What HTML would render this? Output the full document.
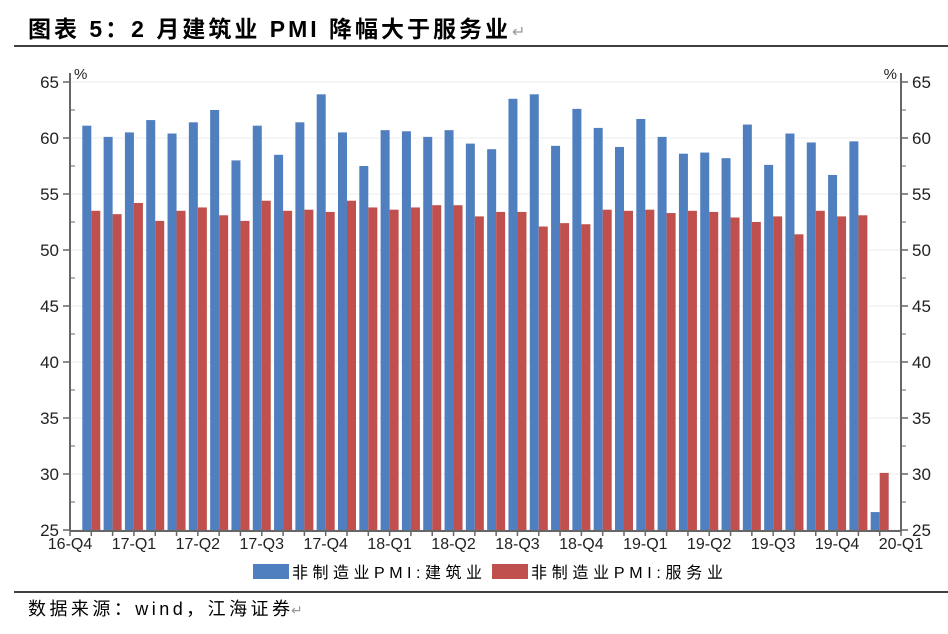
<!DOCTYPE html>
<html><head><meta charset="utf-8"><style>
body{margin:0;background:#fff;width:948px;height:629px;overflow:hidden;font-family:"Liberation Sans","Noto Sans CJK SC",sans-serif;}
</style></head><body>
<svg width="948" height="629" xmlns="http://www.w3.org/2000/svg">
<text x="28" y="37" font-size="23" font-weight="bold" textLength="480" lengthAdjust="spacing" font-family="'Liberation Sans','Noto Sans CJK SC',sans-serif">图表 5：2 月建筑业 PMI 降幅大于服务业</text>
<text x="512" y="37" font-size="16" fill="#999">↵</text>
<line x1="14" y1="46" x2="948" y2="46" stroke="#000" stroke-width="1.5"/>
<g id="grid"></g><g id="bars"></g><g id="axes"></g>
<g font-size="16" font-family="'Liberation Sans','Noto Sans CJK SC',sans-serif">
<rect x="253" y="564" width="36" height="15" fill="#4f7fbe"/>
<text x="292" y="578" textLength="190" lengthAdjust="spacing">非制造业PMI:建筑业</text>
<rect x="492" y="564" width="36" height="15" fill="#c0504d"/>
<text x="531" y="578" textLength="192" lengthAdjust="spacing">非制造业PMI:服务业</text>
</g>
<line x1="14" y1="592" x2="948" y2="592" stroke="#000" stroke-width="1.5"/>
<text x="28" y="615" font-size="18" textLength="262" lengthAdjust="spacing">数据来源：wind，江海证券</text>
<text x="291" y="615" font-size="14" fill="#999">↵</text>
</svg>
<script>
const construction=[61.1,60.1,60.5,61.6,60.4,61.4,62.5,58.0,61.1,58.5,61.4,63.9,60.5,57.5,60.7,60.6,60.1,60.7,59.5,59.0,63.5,63.9,59.3,62.6,60.9,59.2,61.7,60.1,58.6,58.7,58.2,61.2,57.6,60.4,59.6,56.7,59.7,26.6];
const services=[53.5,53.2,54.2,52.6,53.5,53.8,53.1,52.6,54.4,53.5,53.6,53.4,54.4,53.8,53.6,53.8,54.0,54.0,53.0,53.4,53.4,52.1,52.4,52.3,53.6,53.5,53.6,53.3,53.5,53.4,52.9,52.5,53.0,51.4,53.5,53.0,53.1,30.1];
const quarterLabels=["16-Q4","17-Q1","17-Q2","17-Q3","17-Q4","18-Q1","18-Q2","18-Q3","18-Q4","19-Q1","19-Q2","19-Q3","19-Q4","20-Q1"];
const yTicks=[25,30,35,40,45,50,55,60,65];
const NS="http://www.w3.org/2000/svg";
const L=70,R=901,T=73,B=530,yMin=25,yMax=65,slots=39;
const x=i=>L+(R-L)*i/slots;
const y=v=>B-(v-yMin)/(yMax-yMin)*(B-82);
function mk(t,a,p){const e=document.createElementNS(NS,t);for(const k in a)e.setAttribute(k,a[k]);p.appendChild(e);return e;}
const grid=document.getElementById('grid'),bars=document.getElementById('bars'),axes=document.getElementById('axes');
yTicks.forEach(v=>{
 const g=mk('line',{x1:L,x2:R,y1:y(v),y2:y(v),stroke:'#eee','stroke-width':1},grid);
 
 
 [[L,-7,'end',L-11],[R,7,'start',R+11]].forEach(([ax,d,an,tx])=>{
  mk('line',{x1:ax,x2:ax+d,y1:y(v),y2:y(v),stroke:'#666','stroke-width':1.5},axes);
  const t=mk('text',{x:tx,y:y(v)+6,'text-anchor':an,'font-size':17,fill:'#222'},axes);
  t.textContent=v;
  
  
 });
 if(v<65){[L,R].forEach(ax=>mk('line',{x1:ax,x2:ax+5,y1:y(v+2.5),y2:y(v+2.5),stroke:'#666','stroke-width':1},axes));}
});
construction.forEach((v,i)=>{
 const c=x(i+1);
 const b=mk('rect',{x:c-9,y:y(v),width:9,height:B-y(v),fill:'#4f7fbe'},bars);
 
 
 const r=mk('rect',{x:c,y:y(services[i]),width:9,height:B-y(services[i]),fill:'#c0504d'},bars);
 
 
});
mk('line',{x1:L,x2:L,y1:T,y2:B+1,stroke:'#666','stroke-width':2},axes);
mk('line',{x1:R,x2:R,y1:T,y2:B+1,stroke:'#666','stroke-width':2},axes);
mk('line',{x1:L,x2:R,y1:B+1,y2:B+1,stroke:'#666','stroke-width':2},axes);
for(let i=0;i<=slots;i++) mk('line',{x1:x(i),x2:x(i),y1:B,y2:B+6,stroke:'#666','stroke-width':1.5},axes);
quarterLabels.forEach((q,k)=>{
 const t=mk('text',{x:x(k*3),y:B+19,'text-anchor':'middle','font-size':16,fill:'#222'},axes);
 t.textContent=q;
 
 
});
[[74,'start'],[897,'end']].forEach(([px,an])=>{
 const t=mk('text',{x:px,y:79,'text-anchor':an,'font-size':15,fill:'#222'},axes);
 t.textContent='%';
 
 
});
</script>
</body></html>
